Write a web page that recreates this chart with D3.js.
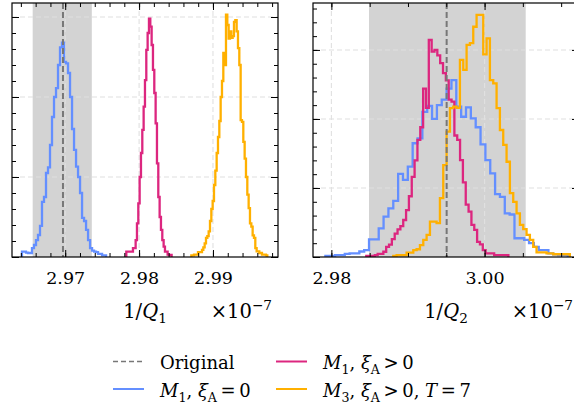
<!DOCTYPE html>
<html>
<head>
<meta charset="utf-8">
<script src="https://cdn.jsdelivr.net/npm/d3@7"></script>
<style>
  html, body { margin: 0; padding: 0; background: #fff; }
  svg { display: block; }
</style>
</head>
<body>
<div id="chart"></div>
<script>
// ---------------- data ----------------
// Step histograms (density) of the posterior samples, x in units of 1e-7.
// Each series: first bin edge, bin width, bin heights.

// Left panel: 1/Q1
const q1Domain = [2.9628, 2.9988];
const q1Ticks = [2.97, 2.98, 2.99];
const q1MinorStep = 0.002;
const q1Original = 2.9697;
const q1Band = [2.9656, 2.9736];
const q1YTop = 317.5;
const q1YTicks = [0, 100, 200, 300];
const q1YMinorStep = 20;
const q1BinStart = [2.96415, 2.97827, 2.98707];
const q1BinWidth = [0.000271, 0.0001804, 0.0001804];
const q1Blue = [6.6, 6.6, 5.5, 5, 5, 11, 15, 21, 27.5, 39, 69, 75, 105, 112, 140, 175, 200, 211, 240, 262,
  268, 244, 242, 230, 200, 160, 134, 113, 100, 80, 49, 45, 34, 21, 11, 8, 6.6, 6, 4, 4, 2, 2];
const q1Pink = [6.6, 6.6, 6.6, 6.6, 6.6, 11, 11, 21, 42, 67, 100, 130, 159, 188, 221, 259, 280, 298, 288, 265,
  234, 205, 167, 117, 75, 50, 34, 21, 13, 6.6, 6.6, 3, 2.5, 2.5];
const q1Orange = [2, 2, 3, 3, 3, 6, 6, 6, 9, 12, 17, 24, 26, 32, 45, 60, 70, 90, 108, 130,
  150, 170, 200, 220, 255, 240, 303, 290, 273, 282, 274, 276, 294, 296, 282, 261, 240, 171, 169, 144,
  123, 100, 78, 61, 42, 38, 27, 24, 11, 7, 7, 5, 5, 3, 3, 3, 2];

// Right panel: 1/Q2
const q2Domain = [2.9776, 3.01233];
const q2Ticks = [2.98, 3.00];
const q2MinorStep = 0.005;
const q2Original = 2.99505;
const q2Band = [2.98491, 3.00537];
const q2YTop = 92.0;
const q2YTicks = [0, 25, 50, 75];
const q2YMinorStep = 5;
const q2BinStart = [2.979219, 2.984558, 2.988083];
const q2BinWidth = [0.000633, 0.000371, 0.000435];
const q2Blue = [0.4, 0.4, 0.7, 0.7, 1.1, 1.3, 1.3, 2.0, 2.5, 6.4,
  6.4, 10.4, 14.6, 17.6, 20.3, 30.1, 27.9, 32.7, 41.2, 43,
  52.6, 54.7, 50, 55, 57, 61, 64.1, 54.5, 50.8, 54.2,
  50.2, 47, 40.8, 35.1, 30.3, 22.8, 21.8, 15.8, 15.4, 6.8,
  6.8, 6.2, 5.0, 3.7, 2.5, 2.5, 1.3, 1.0, 0.7, 0.7];
const q2Pink = [0.4, 0.4, 0.4, 0.7, 1.1, 1.1, 1.9, 3.7, 4.5, 6.5,
  8.5, 10, 11.2, 13.4, 17, 22, 29, 35, 42.4, 47,
  61, 54, 78.6, 74.4, 75, 73, 70.2, 66.6, 64, 57,
  56.3, 44, 42.4, 35.1, 27, 19, 16.4, 11.6, 9.8, 5.5,
  4.6, 2.5, 1.3, 1.3, 1.3, 0.7, 0.7, 0.7, 0.7, 0.7];
const q2Orange = [0.4, 0.7, 0.7, 0.7, 1.6, 1.6, 2.5, 2.8, 4.3, 6.2,
  8, 12.8, 12.8, 12.3, 21.3, 33.3, 45.4, 53.9, 54.5, 54,
  71.4, 67.8, 76.8, 77.5, 83.4, 87.7, 87.7, 73.4, 79.2, 64.1,
  62.9, 53.9, 46, 40.6, 34.5, 23.1, 20, 15.8, 11.6, 10.1,
  8, 6.2, 3.7, 1.7, 1.7, 1.7, 1.3, 1.3, 1.0, 1.0,
  1.0, 1.0, 1.0];

const seriesColors = ["#648FFF", "#DC267F", "#FFB000"];
const originalColor = "#777777";
const bandColor = "#d3d3d3";

// Legend entries: [text, style] pieces; "i" italic, "sub" subscript, "subr" upright subscript
const legendOriginal = [["Original", ""]];
const legendBlue = [["M", "i"], ["1", "sub"], [", ", ""], ["ξ", "i"], ["A", "subr"], ["\u2009=\u20090", ""]];
const legendPink = [["M", "i"], ["1", "sub"], [", ", ""], ["ξ", "i"], ["A", "subr"], ["\u2009>\u20090", ""]];
const legendOrange = [["M", "i"], ["3", "sub"], [", ", ""], ["ξ", "i"], ["A", "subr"], ["\u2009>\u20090, ", ""], ["T", "i"], ["\u2009=\u20097", ""]];

// ---------------- drawing ----------------
const W = 574, H = 405;
const FONT = "DejaVu Serif";
const FS = 17.5;       // tick labels
const FS_LABEL = 19.5; // axis labels and offset text
const FS_LEG = 18;     // legend

const svg = d3.select("#chart").append("svg")
  .attr("width", W).attr("height", H)
  .attr("viewBox", `0 0 ${W} ${H}`);

function appendMath(textSel, parts, fs) {
  let shift = 0;
  parts.forEach(([t, st]) => {
    let target = 0, size = fs, italic = false;
    if (st === "i") italic = true;
    if (st === "sub" || st === "subr") { target = fs * 0.28; size = fs * 0.7; }
    if (st === "sup") { target = -fs * 0.42; size = fs * 0.7; }
    const ts = textSel.append("tspan")
      .attr("dy", target - shift)
      .attr("font-size", size)
      .text(t);
    if (italic) ts.attr("font-style", "italic");
    shift = target;
  });
}

function minorTicks(domain, step) {
  const out = [];
  const start = Math.ceil(domain[0] / step - 1e-6);
  const end = Math.floor(domain[1] / step + 1e-6);
  for (let k = start; k <= end; k++) out.push(+(k * step).toFixed(6));
  return out;
}

function drawPanel(p) {
  const x = d3.scaleLinear().domain(p.domain).range([p.left, p.right]);
  const y = d3.scaleLinear().domain([0, p.yTop]).range([p.bottom, p.top]);
  const g = svg.append("g");
  const clipId = "clip" + p.id;
  svg.append("clipPath").attr("id", clipId)
    .append("rect").attr("x", p.left).attr("y", p.top)
    .attr("width", p.right - p.left).attr("height", p.bottom - p.top);
  const plot = g.append("g").attr("clip-path", `url(#${clipId})`);

  // shaded interval
  plot.append("rect")
    .attr("x", x(p.band[0])).attr("width", x(p.band[1]) - x(p.band[0]))
    .attr("y", p.top).attr("height", p.bottom - p.top)
    .attr("fill", bandColor);

  // grid
  plot.selectAll("line.vgrid").data(p.ticks).join("line")
    .attr("class", "vgrid")
    .attr("x1", d => x(d)).attr("x2", d => x(d))
    .attr("y1", p.top).attr("y2", p.bottom)
    .attr("stroke", "#e0e0e0").attr("stroke-width", 1.1).attr("stroke-dasharray", "5,3");
  plot.selectAll("line.hgrid").data(p.yTicks.filter(d => d > 0)).join("line")
    .attr("class", "hgrid")
    .attr("x1", p.left).attr("x2", p.right)
    .attr("y1", d => y(d)).attr("y2", d => y(d))
    .attr("stroke", "#e0e0e0").attr("stroke-width", 1.1).attr("stroke-dasharray", "5,3");

  // step histograms
  const line = d3.line().x(d => x(d[0])).y(d => y(d[1]));
  p.series.forEach((counts, i) => {
    const s = p.binStart[i], w = p.binWidth[i];
    const pts = [[s, 0]];
    counts.forEach((c, k) => { pts.push([s + k * w, c]); pts.push([s + (k + 1) * w, c]); });
    pts.push([s + counts.length * w, 0]);
    plot.append("path").datum(pts)
      .attr("d", line)
      .attr("fill", "none")
      .attr("stroke", seriesColors[i])
      .attr("stroke-width", 2.3)
      .attr("stroke-linejoin", "miter");
  });

  // original value
  plot.append("line")
    .attr("x1", x(p.original)).attr("x2", x(p.original))
    .attr("y1", p.top).attr("y2", p.bottom)
    .attr("stroke", originalColor).attr("stroke-width", 2)
    .attr("stroke-dasharray", "6,3");

  // axes with inward ticks on all four sides
  const majLen = 7, minLen = 4;
  const xMinor = minorTicks(p.domain, p.minorStep);
  const yMinor = minorTicks([0, p.yTop], p.yMinorStep);
  const axB = d3.axisBottom(x).tickValues(p.ticks).tickSize(-majLen).tickFormat(d3.format(".2f")).tickPadding(majLen + 6);
  const axBm = d3.axisBottom(x).tickValues(xMinor).tickSize(-minLen).tickFormat("");
  const axT = d3.axisTop(x).tickValues(p.ticks).tickSize(-majLen).tickFormat("");
  const axTm = d3.axisTop(x).tickValues(xMinor).tickSize(-minLen).tickFormat("");
  const axL = d3.axisLeft(y).tickValues(p.yTicks).tickSize(-majLen).tickFormat("");
  const axLm = d3.axisLeft(y).tickValues(yMinor).tickSize(-minLen).tickFormat("");
  const axR = d3.axisRight(y).tickValues(p.yTicks).tickSize(-majLen).tickFormat("");
  const axRm = d3.axisRight(y).tickValues(yMinor).tickSize(-minLen).tickFormat("");

  const put = (ax, tx, ty) => {
    const a = g.append("g").attr("transform", `translate(${tx},${ty})`).call(ax);
    a.attr("font-family", FONT).attr("font-size", FS);
    a.select(".domain").remove();
    a.selectAll(".tick line").attr("stroke", "#000").attr("stroke-width", 1);
    return a;
  };
  const bottomAxis = put(axB, 0, p.bottom);
  bottomAxis.selectAll(".tick text")
    .attr("font-family", FONT).attr("font-size", FS).attr("fill", "#000")
    .attr("dy", null).attr("y", 284 - p.bottom);
  put(axBm, 0, p.bottom);
  put(axT, 0, p.top);
  put(axTm, 0, p.top);
  put(axL, p.left, 0);
  put(axLm, p.left, 0);
  put(axR, p.right, 0);
  put(axRm, p.right, 0);

  // frame
  g.append("rect")
    .attr("x", p.left).attr("y", p.top)
    .attr("width", p.right - p.left).attr("height", p.bottom - p.top)
    .attr("fill", "none").attr("stroke", "#000").attr("stroke-width", 1.2);

  // axis label and offset text
  const lab = g.append("text")
    .attr("x", (p.left + p.right) / 2).attr("y", 318)
    .attr("text-anchor", "middle").attr("font-family", FONT).attr("font-size", FS_LABEL);
  appendMath(lab, p.label, FS_LABEL);
  const off = g.append("text")
    .attr("x", p.right - 6).attr("y", 318)
    .attr("text-anchor", "end").attr("font-family", FONT).attr("font-size", FS_LABEL);
  appendMath(off, [["×10", ""], ["\u22127", "sup"]], FS_LABEL);
}

drawPanel({
  id: 1, left: 12, right: 278, top: 3, bottom: 257,
  domain: q1Domain, ticks: q1Ticks, minorStep: q1MinorStep,
  yTop: q1YTop, yTicks: q1YTicks, yMinorStep: q1YMinorStep,
  band: q1Band, original: q1Original,
  binStart: q1BinStart, binWidth: q1BinWidth,
  series: [q1Blue, q1Pink, q1Orange],
  label: [["1/", ""], ["Q", "i"], ["1", "sub"]]
});
drawPanel({
  id: 2, left: 313, right: 579, top: 3, bottom: 257,
  domain: q2Domain, ticks: q2Ticks, minorStep: q2MinorStep,
  yTop: q2YTop, yTicks: q2YTicks, yMinorStep: q2YMinorStep,
  band: q2Band, original: q2Original,
  binStart: q2BinStart, binWidth: q2BinWidth,
  series: [q2Blue, q2Pink, q2Orange],
  label: [["1/", ""], ["Q", "i"], ["2", "sub"]]
});

// legend (two columns)
const legendItems = [
  { parts: legendOriginal, color: originalColor, dash: "5,3", col: 0, row: 0 },
  { parts: legendBlue, color: seriesColors[0], dash: null, col: 0, row: 1 },
  { parts: legendPink, color: seriesColors[1], dash: null, col: 1, row: 0 },
  { parts: legendOrange, color: seriesColors[2], dash: null, col: 1, row: 1 }
];
const colX = [113, 276];
const rowY = [369, 396.5];
const leg = svg.append("g");
legendItems.forEach(it => {
  const lx = colX[it.col], ly = rowY[it.row];
  const ln = leg.append("line")
    .attr("x1", lx).attr("x2", lx + 31)
    .attr("y1", ly - 7.5).attr("y2", ly - 7.5)
    .attr("stroke", it.color).attr("stroke-width", 2);
  if (it.dash) ln.attr("stroke-dasharray", it.dash).attr("stroke-width", 1.7);
  const t = leg.append("text")
    .attr("x", lx + 47).attr("y", ly)
    .attr("font-family", FONT).attr("font-size", FS_LEG);
  appendMath(t, it.parts, FS_LEG);
});
</script>
</body>
</html>
